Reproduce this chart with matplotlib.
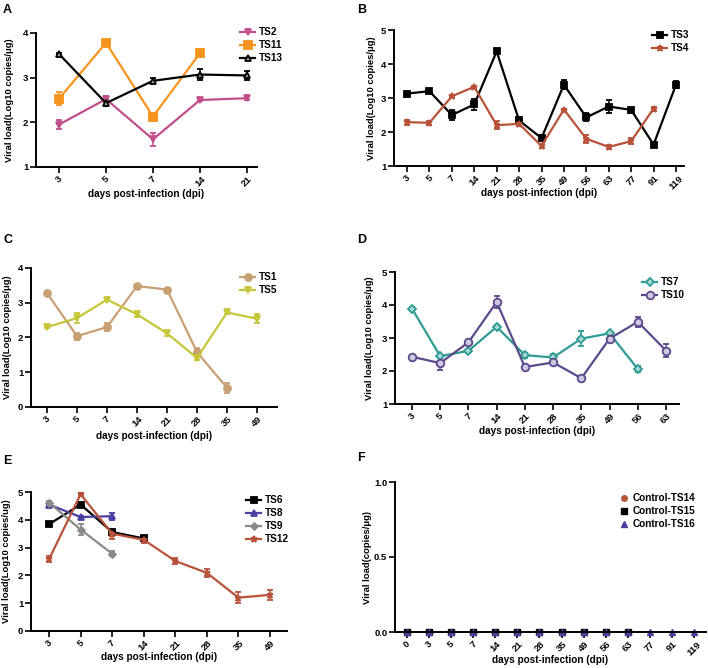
import numpy as np
import matplotlib
matplotlib.use('Agg')
import matplotlib.pyplot as plt
from matplotlib.ticker import FormatStrFormatter

plt.rcParams['font.family'] = ['Liberation Sans', 'DejaVu Sans']
plt.rcParams['font.weight'] = 'bold'

W, H = 708, 668

# ---- data ----
days_a = ['3', '5', '7', '14', '21']
ts2 = [1.95, 2.52, 1.62, 2.50, 2.54]
ts2_err = [0.10, 0.06, 0.15, 0.03, 0.04]
ts11 = [2.53, 3.78, 2.13, 3.55, np.nan]
ts11_err = [0.15, 0.05, 0.05, 0.05, 0]
ts13 = [3.53, 2.43, 2.93, 3.07, 3.05]
ts13_err = [0.03, 0.06, 0.06, 0.12, 0.10]

days_b = ['3', '5', '7', '14', '21', '28', '35', '49', '56', '63', '77', '91', '119']
ts3 = [3.13, 3.20, 2.50, 2.81, 4.37, 2.34, 1.82, 3.39, 2.43, 2.75, 2.65, 1.63, 3.39]
ts3_err = [0.03, 0.03, 0.15, 0.15, 0.04, 0.05, 0.08, 0.13, 0.12, 0.20, 0.07, 0.08, 0.10]
ts4 = [2.29, 2.27, 3.05, 3.33, 2.20, 2.24, 1.59, 2.66, 1.80, 1.56, 1.73, 2.69, np.nan]
ts4_err = [0.07, 0.06, 0.03, 0.03, 0.12, 0.06, 0.06, 0.03, 0.12, 0.07, 0.08, 0.06, 0]

days_c = ['3', '5', '7', '14', '21', '28', '35', '49']
ts1 = [3.28, 2.04, 2.30, 3.48, 3.38, 1.58, 0.55, np.nan]
ts1_err = [0.03, 0.10, 0.12, 0.03, 0.03, 0.12, 0.15, 0]
ts5 = [2.30, 2.56, 3.09, 2.67, 2.12, 1.41, 2.72, 2.54]
ts5_err = [0.03, 0.15, 0.05, 0.07, 0.08, 0.05, 0.04, 0.13]

days_d = ['3', '5', '7', '14', '21', '28', '35', '49', '56', '63']
ts7 = [3.89, 2.45, 2.61, 3.34, 2.48, 2.41, 2.98, 3.14, 2.06, np.nan]
ts7_err = [0.04, 0.05, 0.06, 0.04, 0.08, 0.12, 0.22, 0.05, 0.10, 0]
ts10 = [2.43, 2.24, 2.87, 4.09, 2.12, 2.26, 1.78, 2.98, 3.49, 2.62]
ts10_err = [0.03, 0.22, 0.03, 0.18, 0.03, 0.07, 0.08, 0.03, 0.15, 0.20]

days_e = ['3', '5', '7', '14', '21', '28', '35', '49']
ts6 = [3.84, 4.55, 3.56, 3.33, np.nan, np.nan, np.nan, np.nan]
ts6_err = [0.03, 0.04, 0.05, 0.04, 0, 0, 0, 0]
ts8 = [4.55, 4.10, 4.13, np.nan, np.nan, np.nan, np.nan, np.nan]
ts8_err = [0.04, 0.03, 0.12, 0, 0, 0, 0, 0]
ts9 = [4.62, 3.65, 2.78, np.nan, np.nan, np.nan, np.nan, np.nan]
ts9_err = [0.04, 0.20, 0.10, 0, 0, 0, 0, 0]
ts12 = [2.58, 4.92, 3.50, 3.28, 2.52, 2.09, 1.20, 1.30]
ts12_err = [0.10, 0.04, 0.18, 0.12, 0.10, 0.15, 0.20, 0.18]

days_f = ['0', '3', '5', '7', '14', '21', '28', '35', '49', '56', '63', '77', '91', '119']
ts14 = [0] * 11 + [np.nan] * 3
ts15 = [0] * 11 + [np.nan] * 3
ts16 = [0] * 14

c_ts2 = '#c24f8c'
c_ts11 = '#f7941d'
c_red = '#b8533a'
c_ts1 = '#c9a073'
c_ts5 = '#c5c63a'
c_ts7 = '#2e9b94'
c_ts10 = '#5a4a8c'
c_ts8 = '#4a3fa3'
c_ts9 = '#8a8a8a'


def make_ax(fig, x0, x1, y0, y1):
    ax = fig.add_axes([x0 / W, 1 - y1 / H, (x1 - x0) / W, (y1 - y0) / H])
    for s in ['top', 'right']:
        ax.spines[s].set_visible(False)
    for s in ['left', 'bottom']:
        ax.spines[s].set_linewidth(1.4)
    ax.tick_params(width=1.2, length=4, labelsize=6.8, direction='out', pad=1.5)
    return ax


def series(ax, y, err, color, marker, label, mfc=None, ms=5):
    x = np.arange(len(y))
    c = ax.errorbar(x, y, yerr=err, color=color, marker=marker, ms=ms, lw=1.6,
                    capsize=2.5, elinewidth=1.1, capthick=1.1,
                    mfc=mfc if mfc else color, mec=color, mew=1.3)
    return c.lines[0], label


def finish(ax, cats, box, ticks, ylim, yticks, ylabel, xlab_y, ylab_x,
           items, leg_xy, letter_xy, letter, hl=1.5):
    x0, x1, y0, y1 = box
    tick0, tick1 = ticks
    n = len(cats)
    step = (tick1 - tick0) / (n - 1)
    ax.set_xlim((x0 - tick0) / step, (n - 1) + (x1 - tick1) / step)
    ax.set_ylim(*ylim)
    ax.set_xticks(range(n))
    ax.set_xticklabels(cats, rotation=45, ha='center', va='top')
    ax.set_yticks(yticks)
    fig = ax.figure
    fig.text(ylab_x / W, 1 - (y0 + y1) / 2 / H, ylabel, rotation=90,
             fontsize=6.8, ha='center', va='center')
    fig.text((x0 + x1) / 2 / W, 1 - xlab_y / H, 'days post-infection (dpi)',
             fontsize=7.2, ha='center', va='center')
    ax.legend([i[0] for i in items], [i[1] for i in items], loc='upper left',
              bbox_to_anchor=(leg_xy[0] / W, 1 - leg_xy[1] / H),
              bbox_transform=fig.transFigure, frameon=False, fontsize=7.2,
              handlelength=hl, labelspacing=0.3, borderpad=0, borderaxespad=0,
              handletextpad=0.4)
    fig.text(letter_xy[0] / W, 1 - letter_xy[1] / H, letter, fontsize=9,
             fontweight='bold', va='top', ha='left')


fig = plt.figure(figsize=(W / 100, H / 100), dpi=100)
ylab_log = 'Viral load(Log10 copies/\u03bcg)'

# A
box = (36, 257, 33, 167)
ax = make_ax(fig, *box)
h = [series(ax, ts2, ts2_err, c_ts2, 'v', 'TS2'),
     series(ax, ts11, ts11_err, c_ts11, 's', 'TS11', ms=5.5),
     series(ax, ts13, ts13_err, 'black', '^', 'TS13', mfc='#a0a0a0', ms=5)]
finish(ax, days_a, box, (59, 247), (1, 4), [1, 2, 3, 4], ylab_log, 194, 10,
       h, (240, 27), (3, 4), 'A')

# B
box = (394, 684, 30, 166)
ax = make_ax(fig, *box)
h = [series(ax, ts3, ts3_err, 'black', 's', 'TS3', ms=4),
     series(ax, ts4, ts4_err, c_red, '*', 'TS4', ms=5)]
finish(ax, days_b, box, (407, 676), (1, 5), [1, 2, 3, 4, 5], ylab_log, 193, 371,
       h, (652, 30), (357, 4), 'B')

# C
box = (31, 277, 268, 407)
ax = make_ax(fig, *box)
h = [series(ax, ts1, ts1_err, c_ts1, 'o', 'TS1', ms=5),
     series(ax, ts5, ts5_err, c_ts5, 'v', 'TS5', ms=5)]
finish(ax, days_c, box, (47, 257), (0, 4), [0, 1, 2, 3, 4], ylab_log, 436, 8,
       h, (240, 272), (3, 234), 'C')

# D
box = (395, 679, 272, 404)
ax = make_ax(fig, *box)
h = [series(ax, ts7, ts7_err, c_ts7, 'D', 'TS7', mfc='#a8d8d4', ms=4.5),
     series(ax, ts10, ts10_err, c_ts10, 'o', 'TS10', mfc='#cfc8e0', ms=5.5)]
finish(ax, days_d, box, (412, 666), (1, 5), [1, 2, 3, 4, 5], ylab_log, 431, 370,
       h, (642, 277), (357, 234), 'D')

# E
box = (31, 287, 492, 631)
ax = make_ax(fig, *box)
h = [series(ax, ts6, ts6_err, 'black', 's', 'TS6', ms=4),
     series(ax, ts8, ts8_err, c_ts8, '^', 'TS8', ms=4),
     series(ax, ts9, ts9_err, c_ts9, 'D', 'TS9', ms=3.5),
     series(ax, ts12, ts12_err, c_red, '*', 'TS12', ms=5)]
finish(ax, days_e, box, (49, 270), (0, 5), [0, 1, 2, 3, 4, 5],
       'Viral load(Log10 copies/ug)', 657, 7, h, (246, 495), (3, 455), 'E')

# F
box = (395, 706, 482, 632)
ax = make_ax(fig, *box)
xf = np.arange(len(days_f))
h = [(ax.plot(xf, ts14, ls='none', marker='o', color=c_red, ms=4, clip_on=False)[0],
      'Control-TS14'),
     (ax.plot(xf, ts15, ls='none', marker='s', color='black', ms=4, clip_on=False)[0],
      'Control-TS15'),
     (ax.plot(xf, ts16, ls='none', marker='^', color=c_ts8, ms=4, clip_on=False)[0],
      'Control-TS16')]
finish(ax, days_f, box, (407, 694), (0, 1), [0.0, 0.5, 1.0],
       'Viral load(copies/\u03bcg)', 660, 367, h, (619, 493), (357, 452), 'F', hl=1.0)
ax.yaxis.set_major_formatter(FormatStrFormatter('%.1f'))

fig.savefig('out.png', dpi=100)
